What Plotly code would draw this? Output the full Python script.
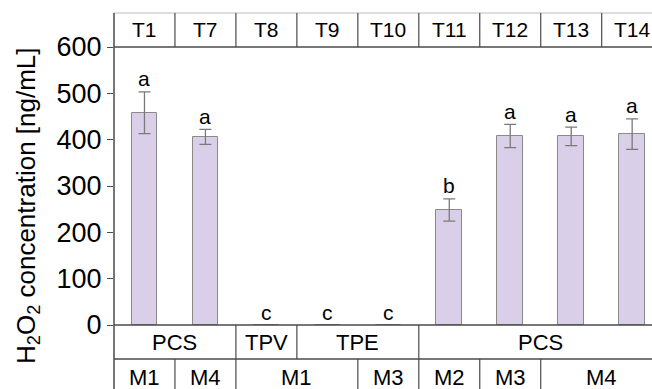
import plotly.graph_objects as go

treatments = ["T1", "T7", "T8", "T9", "T10", "T11", "T12", "T13", "T14"]
h2o2 = [458, 406, 0, 0, 0, 248, 408, 407, 412]
err = [45, 16, 0, 0, 0, 24, 25, 20, 33]
letters = ["a", "a", "c", "c", "c", "b", "a", "a", "a"]
# material groups (row 1) : (label, first index, last index)
materials = [("PCS", 0, 1), ("TPV", 2, 2), ("TPE", 3, 4), ("PCS", 5, 8)]
# method groups (row 2)
methods = [("M1", 0, 0), ("M4", 1, 1), ("M1", 2, 3), ("M3", 4, 4),
           ("M2", 5, 5), ("M3", 6, 6), ("M4", 7, 8)]

FONT = "Liberation Sans, Arial, sans-serif"
LINE = "#4a4a4a"
W, H = 652, 389
ML, MT, MB = 114, 47, 64
plot_h = H - MT - MB

def py2paper(py):
    return (H - MB - py) / plot_h

xs = list(range(len(treatments)))

fig = go.Figure()
fig.add_trace(go.Bar(
    x=xs, y=h2o2, width=0.42,
    marker=dict(color="#dacfe8", line=dict(color="#8a8a8a", width=1)),
    error_y=dict(type="data", array=err, visible=True, color="#7a7a7a",
                 thickness=1.3, width=6),
    showlegend=False,
))

# significance letters
for i, (v, e, l) in enumerate(zip(h2o2, err, letters)):
    fig.add_annotation(x=xs[i], y=v + e, text=l, showarrow=False,
                       xanchor="center", yanchor="middle",
                       yshift=13, font=dict(family=FONT, size=21, color="#000"))

shapes = []
top_y = py2paper(13)
row_y = py2paper(359)
bot_y = py2paper(400)
shapes.append(dict(type="line", xref="paper", yref="paper", x0=0, x1=1.1,
                   y0=top_y, y1=top_y, line=dict(color="#bdbdbd", width=1)))
shapes.append(dict(type="line", xref="paper", yref="paper", x0=0, x1=1.1,
                   y0=1, y1=1, line=dict(color=LINE, width=1.5)))
shapes.append(dict(type="line", xref="paper", yref="paper", x0=0, x1=1.1,
                   y0=0, y1=0, line=dict(color=LINE, width=1.5)))
shapes.append(dict(type="line", xref="paper", yref="paper", x0=0, x1=1.1,
                   y0=row_y, y1=row_y, line=dict(color=LINE, width=1.5)))
shapes.append(dict(type="line", xref="paper", yref="paper", x0=0, x1=0,
                   y0=bot_y, y1=top_y, line=dict(color=LINE, width=1.5)))
for i in range(len(treatments) - 1):
    shapes.append(dict(type="line", xref="x", yref="paper", x0=i + 0.5, x1=i + 0.5,
                       y0=1, y1=top_y, line=dict(color=LINE, width=1.2)))
for name, a, b in materials[:-1]:
    shapes.append(dict(type="line", xref="x", yref="paper", x0=b + 0.5, x1=b + 0.5,
                       y0=0, y1=row_y, line=dict(color=LINE, width=1.2)))
for name, a, b in methods[:-1]:
    shapes.append(dict(type="line", xref="x", yref="paper", x0=b + 0.5, x1=b + 0.5,
                       y0=row_y, y1=bot_y, line=dict(color=LINE, width=1.2)))
fig.update_layout(shapes=shapes)

for i, t in enumerate(treatments):
    fig.add_annotation(x=xs[i], y=py2paper(30), yref="paper", text=t,
                       xanchor="center", yanchor="middle",
                       showarrow=False, font=dict(family=FONT, size=21, color="#000"))
for name, a, b in materials:
    fig.add_annotation(x=(a + b) / 2, y=py2paper(342), yref="paper", text=name,
                       xanchor="center", yanchor="middle",
                       showarrow=False, font=dict(family=FONT, size=22, color="#000"))
for name, a, b in methods:
    fig.add_annotation(x=(a + b) / 2, y=py2paper(377), yref="paper", text=name,
                       xanchor="center", yanchor="middle",
                       showarrow=False, font=dict(family=FONT, size=22, color="#000"))

# y-axis title
fig.add_annotation(x=(27 - ML) / (W - ML), xref="paper", y=py2paper(206), yref="paper",
                   text="H<sub>2</sub>O<sub>2</sub> concentration [ng/mL]",
                   textangle=-90, showarrow=False, xanchor="center", yanchor="middle",
                   font=dict(family=FONT, size=26, color="#000"))

col_w = 60.96
fig.update_layout(
    width=W, height=H,
    margin=dict(l=ML, r=0, t=MT, b=MB, pad=0),
    plot_bgcolor="white", paper_bgcolor="white",
    bargap=0,
    xaxis=dict(range=[-0.5, -0.5 + (W - ML) / col_w], showticklabels=False,
               showgrid=False, zeroline=False, showline=False, ticks=""),
    yaxis=dict(range=[0, 600], tickvals=[0, 100, 200, 300, 400, 500, 600],
               ticks="outside", ticklen=6, tickwidth=1.2, tickcolor=LINE,
               showgrid=False, zeroline=False, showline=False,
               tickfont=dict(family=FONT, size=27, color="#000")),
)

fig.write_html("out.html")
